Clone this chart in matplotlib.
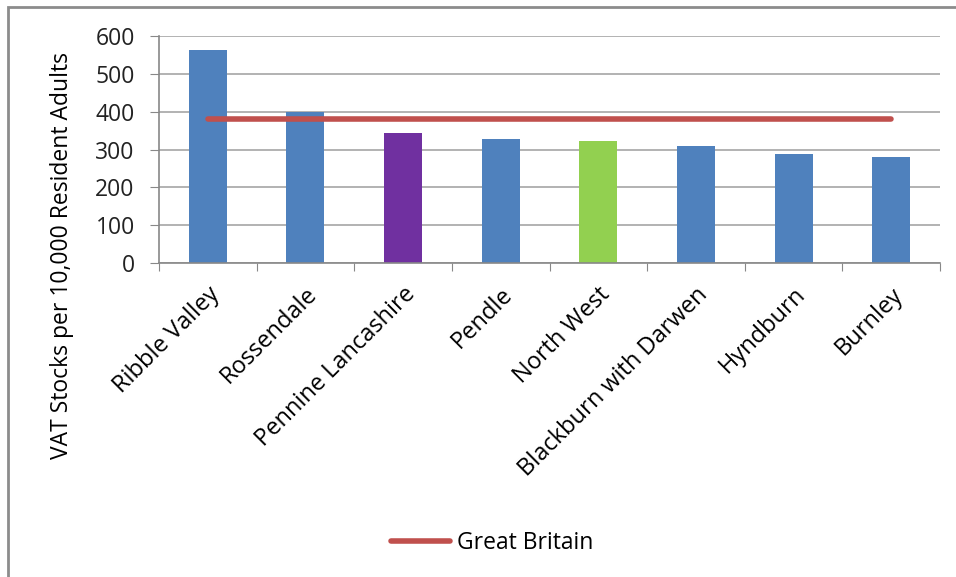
import matplotlib.pyplot as plt
from matplotlib.patches import Rectangle

areas = ["Ribble Valley", "Rossendale", "Pennine Lancashire", "Pendle",
         "North West", "Blackburn with Darwen", "Hyndburn", "Burnley"]
vat_stocks = [563, 398, 343, 327, 323, 309, 289, 279]
great_britain = [381] * len(areas)
bar_colors = ["#4F81BD", "#4F81BD", "#7030A0", "#4F81BD",
              "#92D050", "#4F81BD", "#4F81BD", "#4F81BD"]

plt.rcParams['font.family'] = ['Open Sans', 'DejaVu Sans']

fig = plt.figure(figsize=(9.56, 5.77), dpi=100)
ax = fig.add_axes([0.1663, 0.5442, 0.8170, 0.3934])

x = range(len(areas))
ax.bar(x, vat_stocks, width=0.39, color=bar_colors, zorder=2)
ax.plot(x, great_britain, color="#C0504D", lw=4, solid_capstyle='round',
        label="Great Britain", zorder=3)

ax.set_xlim(-0.5, len(areas) - 0.5)
ax.set_ylim(0, 600)
ax.set_yticks(range(0, 601, 100))
ax.grid(axis='y', color="#A6A6A6", lw=1.2, zorder=0)
ax.set_axisbelow(True)

ax.set_xticks([i - 0.5 for i in range(len(areas) + 1)], minor=False)
ax.set_xticklabels([])
ax.set_xticks(list(x), minor=True)
ax.set_xticklabels(areas, minor=True, rotation=45, ha='right',
                   rotation_mode='anchor', fontsize=17)
ax.tick_params(axis='x', which='minor', length=0, pad=14)
ax.tick_params(axis='x', which='major', length=6, color="#888888", direction='out')
ax.tick_params(axis='y', length=6.5, color="#888888", labelsize=16.5, pad=11,
               labelcolor="#222222")

for side in ['top', 'right']:
    ax.spines[side].set_visible(False)
for side in ['left', 'bottom']:
    ax.spines[side].set_color("#888888")
    ax.spines[side].set_linewidth(1.2)

ax.set_ylabel("VAT Stocks per 10,000 Resident Adults", fontsize=16.5)
ax.yaxis.set_label_coords(-0.124, 0.035, transform=ax.transAxes)
ax.yaxis.label.set_va('center')

fig.legend(loc='center', bbox_to_anchor=(492 / 956, 1 - 543 / 577),
           frameon=False, fontsize=16.5, handlelength=2.6, handletextpad=0.3)

# chart frame (cropped at right and bottom)
fig.patches.append(Rectangle((8 / 956, -0.1), 1.2, 1 - 7 / 577 + 0.1,
                             transform=fig.transFigure, fill=False,
                             edgecolor="#8C8C8C", lw=2))

fig.savefig("out.png", dpi=100)
